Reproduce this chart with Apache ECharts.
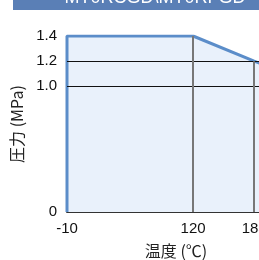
<!DOCTYPE html>
<html>
<head>
<meta charset="utf-8">
<script src="https://cdn.jsdelivr.net/npm/echarts@6/dist/echarts.min.js"></script>
<style>
  html, body { margin: 0; padding: 0; overflow: hidden; background: #fff; }
</style>
</head>
<body>
<div id="container" style="width:259px;height:260px"></div>
<script type="text/javascript">
// temperature (℃) / pressure (MPa) boundary of the usable range
var temps = [-10, -10, 120, 183, 200];
var pressures = [0, 1.4, 1.4, 1.2, 1.15];
var xTicks = [-10, 120, 183];
var yTicks = [0, 1.0, 1.2, 1.4];
var hLines = [1.2, 1.0];
var vLines = [120, 183];
var vLineTops = [1.4, 1.2];
var title = 'MT0RCGD\\MT0RFGD';

var chart = echarts.init(document.getElementById('container'));

var pts = temps.map(function (t, i) { return [t, pressures[i]]; });
var markData = hLines.map(function (v) {
    return { yAxis: v, lineStyle: { color: '#111', width: 1, type: 'solid' } };
});
vLines.forEach(function (v, i) {
    markData.push([
        { coord: [v, 0], lineStyle: { color: '#777', width: 2, type: 'solid' } },
        { coord: [v, vLineTops[i]] }
    ]);
});

var font = 'Liberation Sans, Arial, sans-serif';

var option = {
    animation: false,
    grid: { left: 67, right: 0, top: 36, bottom: 48, outerBoundsMode: 'none' },
    graphic: [
        { type: 'rect', shape: { x: 13, y: 0, width: 246, height: 10 }, style: { fill: '#5a7fb6' }, z: 10 },
        { type: 'text', x: 155, y: 7, style: { text: title, fill: '#fff', font: '18px ' + font, textAlign: 'center', textVerticalAlign: 'bottom' }, z: 11 }
    ],
    xAxis: {
        type: 'value', min: -10, max: 188,
        name: '温度 (℃)', nameLocation: 'middle', nameGap: 31,
        nameTextStyle: { color: '#222', fontSize: 16, fontFamily: 'Noto Sans CJK JP', padding: [0, 0, 0, 26] },
        axisLine: { show: true, onZero: false, lineStyle: { color: '#333', width: 2 } },
        axisTick: { show: false },
        splitLine: { show: false },
        axisLabel: { customValues: xTicks, color: '#111', fontSize: 15, fontFamily: font, margin: 9 }
    },
    yAxis: {
        type: 'value', min: 0, max: 1.4,
        name: '圧力 (MPa)', nameLocation: 'middle', nameGap: 34,
        nameTextStyle: { color: '#222', fontSize: 16, fontFamily: 'Noto Sans CJK JP' },
        axisLine: { show: false },
        axisTick: { show: false },
        splitLine: { show: false },
        axisLabel: {
            customValues: yTicks, color: '#111', fontSize: 15, fontFamily: font, margin: 10,
            formatter: function (v) { return v === 0 ? '0' : v.toFixed(1); }
        }
    },
    series: [{
        type: 'line',
        data: pts,
        symbol: 'none',
        clip: true,
        lineStyle: { color: '#5b8dc9', width: 3 },
        areaStyle: { color: '#e9f1fb', opacity: 1 },
        markLine: { silent: true, symbol: 'none', label: { show: false }, data: markData }
    }]
};
chart.setOption(option);
</script>
</body>
</html>
